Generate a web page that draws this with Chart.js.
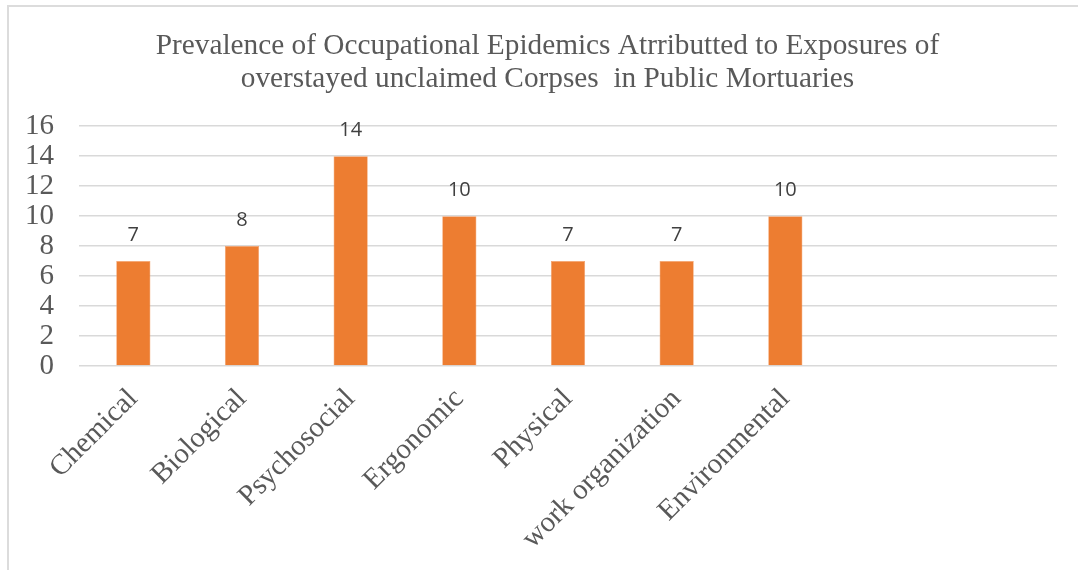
<!DOCTYPE html>
<html>
<head>
<meta charset="utf-8">
<title>Occupational Epidemics</title>
<script src="https://cdn.jsdelivr.net/npm/chart.js@4/dist/chart.umd.min.js"></script>
<style>
  html, body { margin: 0; padding: 0; background: #fff; overflow: hidden; }
  #frame { position: absolute; left: 7px; top: 5px; width: 1200px; height: 700px; border: 2px solid #dcdcdc; }
  #myChart { position: absolute; left: 0; top: 0; }
</style>
</head>
<body>
<div id="frame"></div>
<canvas id="myChart" width="1078" height="570"></canvas>
<script>
// categories (last two slots are empty in the sheet)
let labels = ['Chemical', 'Biological', 'Psychosocial', 'Ergonomic', 'Physical', 'work organization', 'Environmental', '', ''];
let counts = [7, 8, 14, 10, 7, 7, 10, null, null];
let titleLines = ['Prevalence of Occupational Epidemics Atrributted to Exposures of', 'overstayed unclaimed Corpses  in Public Mortuaries'];

const ctx = document.getElementById('myChart').getContext('2d');

// writes the value above each bar
const valueLabels = {
  id: 'valueLabels',
  afterDatasetsDraw(chart) {
    let c = chart.ctx;
    let meta = chart.getDatasetMeta(0);
    c.save();
    c.font = '20px "Open Sans"';
    c.fillStyle = '#404040';
    c.textAlign = 'center';
    c.textBaseline = 'alphabetic';
    meta.data.forEach(function(bar, i) {
      let v = chart.data.datasets[0].data[i];
      if (v === null) return;
      c.fillText(String(v), bar.x, bar.y - 20);
    });
    c.restore();
  }
};

// title is centred on the whole frame, not just up to the plot's right edge
const titleShift = {
  id: 'titleShift',
  afterLayout(chart) {
    if (chart.titleBlock) {
      chart.titleBlock.left += 19;
      chart.titleBlock.right += 19;
    }
  }
};

function newChart() {
  var chart = new Chart(ctx, {
    type: 'bar',
    data: {
      labels: labels,
      datasets: [{
        data: counts,
        backgroundColor: '#ED7D31',
        borderColor: '#F4A36E',
        borderWidth: 0.6,
        categoryPercentage: 1,
        barPercentage: 0.315
      }]
    },
    options: {
      responsive: false,
      animation: false,
      layout: {
        padding: { left: 0, right: 21, top: 30, bottom: 6 }
      },
      plugins: {
        legend: { display: false },
        tooltip: { enabled: false },
        title: {
          display: true,
          text: titleLines,
          color: '#595959',
          font: { family: '"Liberation Serif"', size: 29.3, weight: 'normal', lineHeight: 1.13 },
          padding: { top: 0, bottom: 30 }
        }
      },
      scales: {
        x: {
          grid: { display: false },
          border: { display: false },
          ticks: {
            color: '#595959',
            font: { family: '"Liberation Serif"', size: 29 },
            minRotation: 45,
            maxRotation: 45,
            autoSkip: false,
            padding: 8
          },
          // the first slanted label may hang left of the plot
          afterFit: function(scale) {
            scale.paddingLeft = 0;
            scale.paddingRight = 0;
          }
        },
        y: {
          min: 0,
          max: 16,
          grid: { color: '#d9d9d9', lineWidth: 1.5, drawTicks: false },
          border: { display: false },
          ticks: {
            stepSize: 2,
            autoSkip: false,
            color: '#595959',
            font: { family: '"Liberation Serif"', size: 29, lineHeight: 1 },
            padding: 25
          }
        }
      }
    },
    plugins: [valueLabels, titleShift]
  });
  return chart;
}

newChart();
</script>
</body>
</html>
